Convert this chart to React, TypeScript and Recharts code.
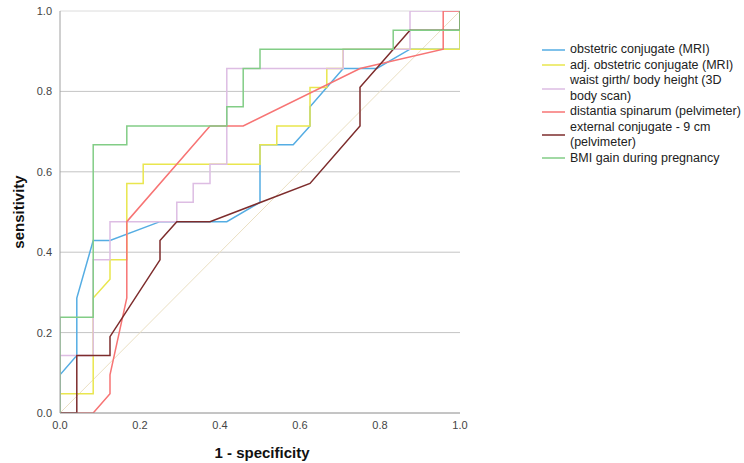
import React from 'react';
import { LineChart, Line, XAxis, YAxis, CartesianGrid, ReferenceLine, Customized } from 'recharts';

// ROC curves: 1 - specificity (x) and sensitivity (y)
const obstetricFpr = [0, 0, 0.042, 0.042, 0.083, 0.125, 0.25, 0.417, 0.5, 0.5, 0.583, 0.625, 0.625, 0.708, 0.792, 0.875, 1, 1];
const obstetricTpr = [0, 0.095, 0.143, 0.286, 0.429, 0.429, 0.476, 0.476, 0.524, 0.667, 0.667, 0.714, 0.762, 0.857, 0.857, 0.905, 0.905, 1];

const adjObstetricFpr = [0, 0, 0.083, 0.083, 0.125, 0.125, 0.167, 0.167, 0.208, 0.208, 0.5, 0.5, 0.542, 0.542, 0.625, 0.625, 0.667, 0.667, 0.708, 0.708, 1, 1];
const adjObstetricTpr = [0, 0.048, 0.048, 0.286, 0.333, 0.381, 0.381, 0.571, 0.571, 0.619, 0.619, 0.667, 0.667, 0.714, 0.714, 0.81, 0.81, 0.857, 0.857, 0.905, 0.905, 1];

const waistFpr = [0, 0, 0.083, 0.083, 0.125, 0.125, 0.292, 0.292, 0.333, 0.333, 0.375, 0.375, 0.417, 0.417, 0.708, 0.708, 0.875, 0.875, 1];
const waistTpr = [0, 0.143, 0.143, 0.381, 0.381, 0.476, 0.476, 0.524, 0.524, 0.571, 0.571, 0.619, 0.619, 0.857, 0.857, 0.905, 0.905, 1, 1];

const spinarumFpr = [0, 0.083, 0.125, 0.125, 0.167, 0.167, 0.375, 0.458, 0.75, 0.958, 0.958, 1];
const spinarumTpr = [0, 0, 0.048, 0.095, 0.286, 0.476, 0.714, 0.714, 0.857, 0.905, 1, 1];

const externalFpr = [0, 0.042, 0.042, 0.125, 0.125, 0.25, 0.25, 0.292, 0.375, 0.625, 0.75, 0.75, 0.875, 1, 1];
const externalTpr = [0, 0, 0.143, 0.143, 0.19, 0.381, 0.429, 0.476, 0.476, 0.571, 0.714, 0.81, 0.952, 0.952, 1];

const bmiFpr = [0, 0, 0.083, 0.083, 0.167, 0.167, 0.417, 0.417, 0.458, 0.458, 0.5, 0.5, 0.833, 0.833, 1, 1];
const bmiTpr = [0, 0.238, 0.238, 0.667, 0.667, 0.714, 0.714, 0.762, 0.762, 0.857, 0.857, 0.905, 0.905, 0.952, 0.952, 1];

const referenceFpr = [0, 1];
const referenceTpr = [0, 1];

const axisTicks = [0, 0.2, 0.4, 0.6, 0.8, 1];
const gridValues = [0.2, 0.4, 0.6, 0.8];

const seriesNames = [
  ['obstetric conjugate (MRI)'],
  ['adj. obstetric conjugate (MRI)'],
  ['waist girth/ body height (3D', 'body scan)'],
  ['distantia spinarum (pelvimeter)'],
  ['external conjugate - 9 cm', '(pelvimeter)'],
  ['BMI gain during pregnancy'],
];
const seriesColors = ['#55ade3', '#e9e64e', '#ddbde3', '#f77474', '#7d2c2c', '#82cd86'];

const zip = (xs: number[], ys: number[]) => xs.map((x, i) => ({ x, y: ys[i] }));

const seriesData = [
  zip(obstetricFpr, obstetricTpr),
  zip(adjObstetricFpr, adjObstetricTpr),
  zip(waistFpr, waistTpr),
  zip(spinarumFpr, spinarumTpr),
  zip(externalFpr, externalTpr),
  zip(bmiFpr, bmiTpr),
];
const referenceData = zip(referenceFpr, referenceTpr);

const FONT = '"Liberation Sans", Arial, sans-serif';

const AxisTitles = () => (
  <g>
    <text x={262} y={458} textAnchor="middle" fontFamily={FONT} fontSize={15} fontWeight="bold" fill="#111">
      1 - specificity
    </text>
    <text
      x={24}
      y={212}
      textAnchor="middle"
      fontFamily={FONT}
      fontSize={15}
      fontWeight="bold"
      fill="#111"
      transform="rotate(-90, 24, 212)"
    >
      sensitivity
    </text>
  </g>
);

export default function App() {
  return (
    <div style={{ position: 'absolute', left: 0, top: 0, width: 744, height: 463, background: '#fff' }}>
      <LineChart width={744} height={463} margin={{ top: 11, right: 284, bottom: 18, left: 10 }}>
        <CartesianGrid horizontal vertical={false} horizontalValues={gridValues} stroke="#c4c4c4" />
        <ReferenceLine y={1} stroke="#dcdcdc" />
        <XAxis
          type="number"
          dataKey="x"
          domain={[0, 1]}
          ticks={axisTicks}
          tickFormatter={(v: number) => v.toFixed(1)}
          height={32}
          tickLine={false}
          axisLine={{ stroke: '#8a8a8a' }}
          tick={{ fontFamily: FONT, fontSize: 11, fill: '#444' }}
          allowDataOverflow
        />
        <YAxis
          type="number"
          dataKey="y"
          domain={[0, 1]}
          ticks={axisTicks}
          tickFormatter={(v: number) => v.toFixed(1)}
          width={50}
          tickLine={false}
          axisLine={{ stroke: '#a0a0a0' }}
          tick={{ fontFamily: FONT, fontSize: 11, fill: '#444' }}
          allowDataOverflow
        />
        <Line
          data={referenceData}
          dataKey="y"
          type="linear"
          stroke="#eadfc2"
          strokeWidth={1}
          dot={false}
          activeDot={false}
          isAnimationActive={false}
        />
        {seriesData.map((d, i) => (
          <Line
            key={i}
            data={d}
            dataKey="y"
            name={seriesNames[i].join(' ')}
            type="linear"
            stroke={seriesColors[i]}
            strokeWidth={1.5}
            dot={false}
            activeDot={false}
            isAnimationActive={false}
          />
        ))}
        <Customized component={AxisTitles} />
      </LineChart>
      <div
        style={{
          position: 'absolute',
          left: 542,
          top: 42,
          width: 202,
          fontFamily: FONT,
          fontSize: 12.5,
          lineHeight: '15.5px',
          color: '#222',
        }}
      >
        {seriesNames.map((lines, i) => (
          <div key={i} style={{ display: 'flex', alignItems: 'center' }}>
            <svg width={28} height={4} style={{ flex: 'none' }}>
              <line x1={0} y1={2} x2={23} y2={2} stroke={seriesColors[i]} strokeWidth={1.5} />
            </svg>
            <div>
              {lines.map((l, j) => (
                <div key={j} style={{ whiteSpace: 'nowrap' }}>{l}</div>
              ))}
            </div>
          </div>
        ))}
      </div>
    </div>
  );
}
